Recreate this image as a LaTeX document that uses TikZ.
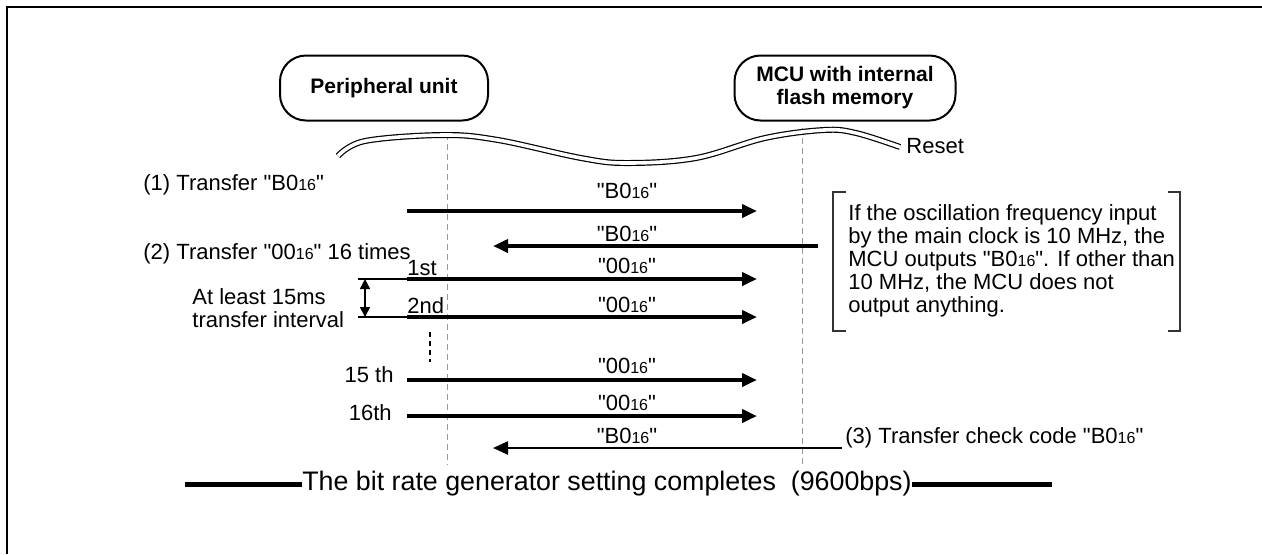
\documentclass[tikz,border=0pt]{standalone}
\usepackage{fontspec}
\setmainfont{Liberation Sans}[Ligatures=TeXOff]
\usetikzlibrary{arrows.meta}

\newcommand{\hexval}[1]{"#1{\fontsize{8}{8}\selectfont 16}"}

\begin{document}
\begin{tikzpicture}[x=0.5pt,y=-0.5pt,
  font=\fontsize{11}{11.5}\selectfont,
  unit/.style={draw, line width=1pt, rounded corners=13pt, minimum width=104pt, minimum height=32.5pt, align=center, font=\fontsize{10.5}{11.5}\selectfont\bfseries},
  life/.style={black!40, line width=0.5pt, dash pattern=on 3pt off 2pt},
  msg/.style={line width=2pt, -{Triangle[length=7.5pt,width=6.5pt]}},
  lbl/.style={inner sep=0pt, anchor=base}]
\useasboundingbox (0,0) rectangle (1262,554);
\draw[line width=1.3pt] (1262,7) -- (7,7) -- (7,554);

\node[unit] (periph) at (384,88) {Peripheral unit};
\node[unit, minimum width=110.5pt] (mcu) at (845,88) {MCU with internal\\flash memory};

% life lines
\coordinate (pTop) at (447,134);
\coordinate (pBot) at (447,465);
\coordinate (mTop) at (802,128);
\coordinate (mBot) at (802,465);
\draw[life] (pTop) -- (pBot);
\draw[life] (mTop) -- (mBot);

% reset
\draw[line width=0.6pt, double=white, double distance=1.8pt] plot[smooth, tension=0.6] coordinates {(338,156) (365,141) (443,135) (498,140) (581,158) (627,163) (696,158) (765,138) (824,130) (856,133) (900,147)};
\node[anchor=west, inner sep=0pt] (reset) at (906,146) {Reset};

% (1)
\node[lbl, anchor=base west] (step1) at (143,190) {(1) Transfer \hexval{B0}};
\coordinate (a1) at (407,211);
\coordinate (b1) at (757,211);
\draw[msg] (a1) -- (b1);
\node[lbl] (t1) at (627,198) {\hexval{B0}};

\coordinate (a2) at (818,246);
\coordinate (b2) at (493,246);
\draw[msg] (a2) -- (b2);
\node[lbl] (t2) at (627,241) {\hexval{B0}};

% (2)
\node[lbl, anchor=base west] (step2) at (143,259) {(2) Transfer \hexval{00} 16 times};
\coordinate (a3) at (407,279);
\coordinate (b3) at (757,279);
\draw[msg] (a3) -- (b3);
\node[lbl] (t3) at (627,273) {\hexval{00}};
\node[lbl, anchor=base west] (n1) at (407,275) {1st};

\coordinate (a4) at (407,317);
\coordinate (b4) at (757,317);
\draw[msg] (a4) -- (b4);
\node[lbl] (t4) at (627,312) {\hexval{00}};
\node[lbl, anchor=base west] (n2) at (407,313) {2nd};

\coordinate (g1) at (358,279);
\coordinate (g2) at (358,317);
\draw[line width=0.6pt] (g1) -- (a3);
\draw[line width=0.6pt] (g2) -- (a4);
\coordinate (d1) at (365,279);
\coordinate (d2) at (365,317);
\draw[line width=0.8pt, {Triangle[length=5pt,width=5pt]}-{Triangle[length=5pt,width=5pt]}] (d1) -- (d2);
\node[anchor=west, inner sep=0pt, align=left] (gap) at (192,308) {At least 15ms\\transfer interval};

\coordinate (v1) at (430,332);
\coordinate (v2) at (430,362);
\draw[line width=0.6pt, dash pattern=on 2.5pt off 2pt] (v1) -- (v2);

\coordinate (a5) at (407,380);
\coordinate (b5) at (757,380);
\draw[msg] (a5) -- (b5);
\node[lbl] (t5) at (627,373) {\hexval{00}};
\node[lbl, anchor=base east] (n15) at (394,382) {15 th};

\coordinate (a6) at (407,416);
\coordinate (b6) at (757,416);
\draw[msg] (a6) -- (b6);
\node[lbl] (t6) at (627,410) {\hexval{00}};
\node[lbl, anchor=base east] (n16) at (392,420) {16th};

% (3)
\coordinate (a7) at (842,448);
\coordinate (b7) at (493,448);
\draw[line width=1.2pt, -{Triangle[length=7.5pt,width=6.5pt]}] (a7) -- (b7);
\node[lbl] (t7) at (627,443) {\hexval{B0}};
\node[lbl, anchor=base west] (step3) at (845,443) {(3) Transfer check code \hexval{B0}};

% note
\draw[black!80, line width=0.6pt] (846,192) -- (833,192) -- (833,331) -- (846,331);
\draw[black!80, line width=0.6pt] (1168,192) -- (1180,192) -- (1180,331) -- (1168,331);
\node[anchor=north west, inner sep=0pt, align=left] (note) at (848,204) {If the oscillation frequency input\\by the main clock is 10 MHz, the\\MCU outputs \hexval{B0}. If other than\\10 MHz, the MCU does not\\output anything.};

% completes
\node[lbl, font=\fontsize{13.4}{14}\selectfont] (done) at (607,490) {The bit rate generator setting completes\ \ (9600bps)};
\coordinate (e1) at (185,484);
\coordinate (e2) at (1052,484);
\draw[line width=2.5pt] (e1) -- (e1 -| done.west);
\draw[line width=2.5pt] (done.east |- e2) -- (e2);
\end{tikzpicture}
\end{document}
